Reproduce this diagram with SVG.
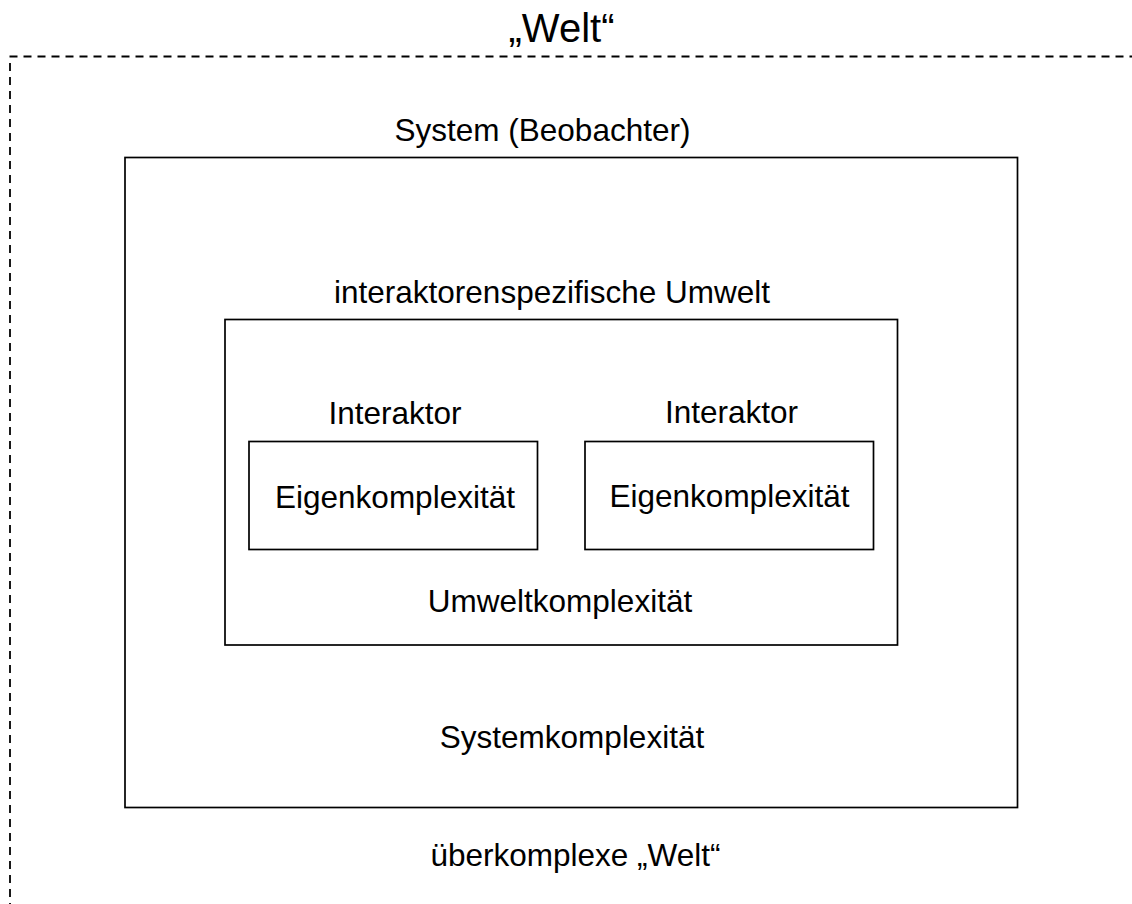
<svg xmlns="http://www.w3.org/2000/svg" width="1132" height="904" viewBox="0 0 1132 904">
<style>
.t{font-family:"Liberation Sans",Arial,sans-serif;font-size:31.5px;fill:#000;text-anchor:middle}
.box{fill:none;stroke:#000;stroke-width:1.7}
.dash{fill:none;stroke:#000;stroke-width:1.8;stroke-dasharray:8 6}
</style>
<rect width="1132" height="904" fill="#fff"/>
<g id="welt">
<line class="dash" x1="9.5" y1="56.5" x2="1132" y2="56.5"/>
<line class="dash" x1="10" y1="63" x2="10" y2="904"/>
<text class="t" x="561.5" y="42" style="font-size:40px">„Welt“</text>
<text class="t" x="575.5" y="866">überkomplexe „Welt“</text>
</g>
<g id="system">
<rect class="box" x="125" y="157.5" width="892.5" height="650"/>
<text class="t" x="542.5" y="141">System (Beobachter)</text>
<text class="t" x="572" y="747.5">Systemkomplexität</text>
</g>
<g id="umwelt">
<rect class="box" x="225" y="319.5" width="672.5" height="325.5"/>
<text class="t" x="552" y="302.5">interaktorenspezifische Umwelt</text>
<text class="t" x="560" y="612">Umweltkomplexität</text>
</g>
<g id="interaktor1">
<rect class="box" x="249" y="441.5" width="288.5" height="108"/>
<text class="t" x="395" y="424">Interaktor</text>
<text class="t" x="395" y="508">Eigenkomplexität</text>
</g>
<g id="interaktor2">
<rect class="box" x="585" y="441.5" width="288.5" height="108"/>
<text class="t" x="731.5" y="423">Interaktor</text>
<text class="t" x="729.5" y="507">Eigenkomplexität</text>
</g>
<g id="connectors"></g>
</svg>
